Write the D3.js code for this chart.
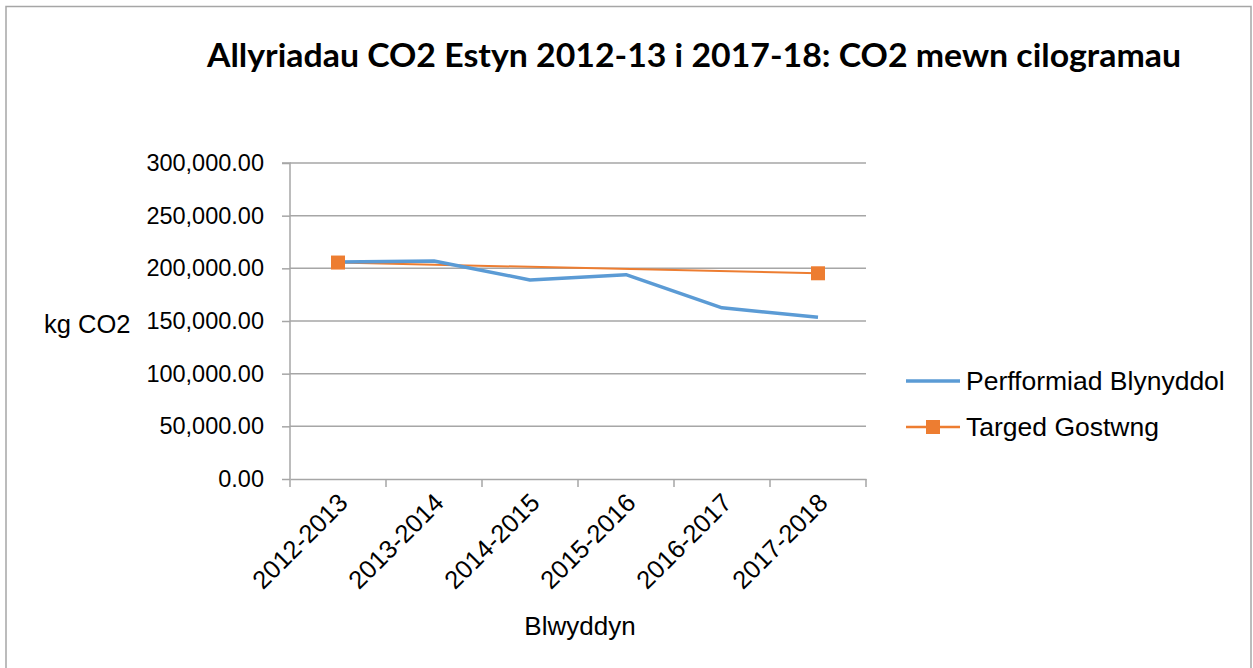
<!DOCTYPE html>
<html><head><meta charset="utf-8">
<script src="https://cdn.jsdelivr.net/npm/d3@7"></script>
<style>body{margin:0;background:#fff}svg{display:block}</style>
</head><body>
<svg id="c" width="1253" height="668"></svg>
<script>
const categories = ["2012-2013","2013-2014","2014-2015","2015-2016","2016-2017","2017-2018"];
const performance = [206000, 207000, 189000, 194000, 162500, 153500];
const targetCats = ["2012-2013","2017-2018"];
const targetValues = [205500, 195300];
const yTicks = [0,50000,100000,150000,200000,250000,300000];
const title = "Allyriadau CO2 Estyn 2012-13 i 2017-18: CO2 mewn cilogramau";
const seriesNames = ["Perfformiad Blynyddol","Targed Gostwng"];

const svg = d3.select("#c");
const font = "'Liberation Sans', Arial, sans-serif";
// border
svg.append("path").attr("d","M6,672 V6.5 H1251 V672").attr("fill","none").attr("stroke","#a6a6a6").attr("stroke-width",1.5);

const L=290,R=866,T=163,B=479;
const x = d3.scaleBand().domain(categories).range([L,R]);
const y = d3.scaleLinear().domain([0,300000]).range([B,T]);

svg.append("text").attr("x",694).attr("y",67).attr("text-anchor","middle")
  .attr("font-family","Lato, 'Open Sans', sans-serif").attr("font-weight","bold").attr("font-size",33)
  .attr("textLength",974).attr("lengthAdjust","spacingAndGlyphs").text(title);

// gridlines
svg.append("g").selectAll("line").data(yTicks.slice(1)).join("line")
  .attr("x1",L).attr("x2",R).attr("y1",d=>y(d)).attr("y2",d=>y(d))
  .attr("stroke","#a6a6a6").attr("stroke-width",1.5);

const yAxis = svg.append("g").attr("transform",`translate(${L},0)`)
  .call(d3.axisLeft(y).tickValues(yTicks).tickSize(8).tickPadding(18).tickFormat(d3.format(",.2f")));
const xAxis = svg.append("g").attr("transform",`translate(0,${B})`)
  .call(d3.axisBottom(x).tickSize(0).tickFormat(""));
// x ticks at band edges
svg.append("g").selectAll("line").data(categories.concat(["end"])).join("line")
  .attr("x1",(d,i)=> i<categories.length? x(d): R).attr("x2",(d,i)=> i<categories.length? x(d): R)
  .attr("y1",B).attr("y2",B+8).attr("stroke","#a6a6a6").attr("stroke-width",1.5);
[yAxis,xAxis].forEach(g=>{
  g.select(".domain").attr("stroke","#a6a6a6").attr("stroke-width",1.5);
  g.selectAll(".tick line").attr("stroke","#a6a6a6").attr("stroke-width",1.5);
  g.selectAll("text").attr("font-family",font).attr("font-size",23.5).attr("fill","#000");
});
yAxis.select(".domain").attr("d",`M-8,${T}H0V${B}`);

// x labels rotated
svg.append("g").selectAll("text").data(categories).join("text")
  .attr("transform",d=>`translate(${x(d)+x.bandwidth()/2+5},${B+19}) rotate(-45)`)
  .attr("text-anchor","end").attr("font-family",font).attr("font-size",25.5)
  .attr("dy","0.35em").text(d=>d);

svg.append("text").attr("x",580).attr("y",635).attr("text-anchor","middle")
  .attr("font-family",font).attr("font-size",26).text("Blwyddyn");
svg.append("text").attr("x",44).attr("y",333)
  .attr("font-family",font).attr("font-size",25.5).text("kg CO2");

const cx = d=>x(d)+x.bandwidth()/2;
const line = d3.line();
svg.append("path").attr("d",line(targetCats.map((c,i)=>[cx(c),y(targetValues[i])])))
  .attr("fill","none").attr("stroke","#ed7d31").attr("stroke-width",2);
svg.append("path").attr("d",line(categories.map((c,i)=>[cx(c),y(performance[i])])))
  .attr("fill","none").attr("stroke","#5b9bd5").attr("stroke-width",3.5).attr("stroke-linejoin","round");
svg.append("g").selectAll("rect").data(targetCats).join("rect")
  .attr("x",(d)=>cx(d)-7).attr("y",(d,i)=>y(targetValues[i])-7).attr("width",14).attr("height",14)
  .attr("fill","#ed7d31");

// legend
const lg = svg.append("g");
lg.append("line").attr("x1",906).attr("x2",960).attr("y1",381).attr("y2",381).attr("stroke","#5b9bd5").attr("stroke-width",3.5);
lg.append("line").attr("x1",906).attr("x2",960).attr("y1",427).attr("y2",427).attr("stroke","#ed7d31").attr("stroke-width",2.5);
lg.append("rect").attr("x",926).attr("y",420).attr("width",14).attr("height",14).attr("fill","#ed7d31");
lg.append("text").attr("x",966).attr("y",390).attr("font-family",font).attr("font-size",26.5).text(seriesNames[0]);
lg.append("text").attr("x",966).attr("y",436).attr("font-family",font).attr("font-size",26.5).text(seriesNames[1]);
</script>
</body></html>
